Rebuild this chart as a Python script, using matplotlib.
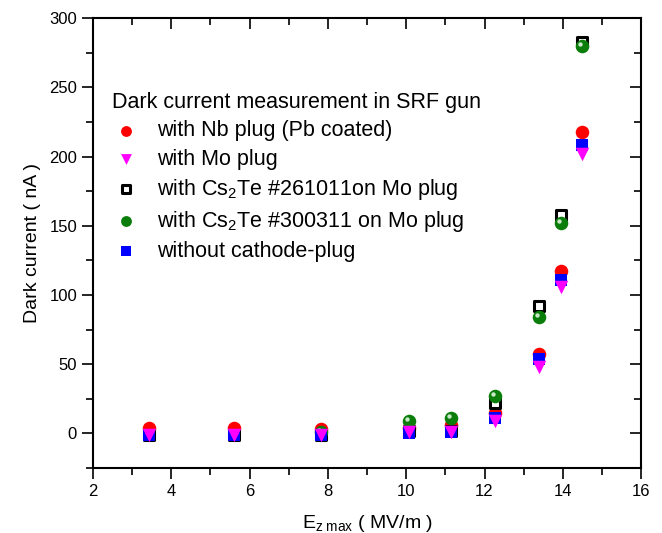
import matplotlib
matplotlib.use("Agg")
import matplotlib.pyplot as plt
import matplotlib.transforms as mtransforms
from matplotlib.lines import TICKDOWN, TICKLEFT

plt.rcParams["font.family"] = ["Liberation Sans", "DejaVu Sans"]
plt.rcParams["mathtext.fontset"] = "custom"
plt.rcParams["mathtext.rm"] = "Liberation Sans"
plt.rcParams["mathtext.it"] = "Liberation Sans"

# E_z max (MV/m)
e_field = [3.42, 5.6, 7.83, 10.07, 11.15, 12.28, 13.38, 13.95, 14.5]

nb_pb     = [4, 4, 3, 4, 6, 15, 57, 117, 218]
mo        = [-1, -1, -1, 1, 1, 9, 48, 106, 202]
cs_261011 = [-1, -1, -1, 2, 2, 22, 92, 158, 283]
e_green   = [7.83, 10.07, 11.15, 12.28, 13.38, 13.95, 14.5]
cs_300311 = [1, 9, 11, 27, 84, 152, 280]
no_plug   = [-1, -1, -1, 0, 1, 11, 54, 111, 208]

fig = plt.figure(figsize=(6.62, 5.33), dpi=100)
ax = fig.add_axes([0.1405, 0.122, 0.828, 0.844])

ax.scatter(e_field, nb_pb, s=95, marker="o", color="red", linewidths=0, zorder=2,
           label="with Nb plug (Pb coated)")
ax.scatter(e_field, cs_261011, s=45, marker="s", facecolor="white", edgecolor="black",
           linewidths=2.2, zorder=3, label="with Cs$_2$Te #261011on Mo plug")
ax.scatter(e_green, cs_300311, s=95, marker="o", color="#0a7d0a", linewidths=0, zorder=4,
           label="with Cs$_2$Te #300311 on Mo plug")
# little highlight to mimic the shaded sphere
hl = mtransforms.offset_copy(ax.transData, fig=fig, x=-2, y=2, units="dots")
ax.scatter(e_green, cs_300311, s=10, marker="o", color="#c8e8c8", linewidths=0,
           zorder=4.5, transform=hl)
ax.scatter(e_field, no_plug, s=70, marker="s", color="blue", linewidths=0, zorder=5,
           label="without cathode-plug")
ax.scatter(e_field, mo, s=95, marker="v", color="magenta", linewidths=0, zorder=6,
           label="with Mo plug")

ax.set_xlim(2, 16)
ax.set_ylim(-25, 300)
ax.set_xticks(range(2, 17, 2))
ax.set_xticks(range(3, 16, 2), minor=True)
ax.set_yticks(range(0, 301, 50))
ax.set_yticks(range(-25, 300, 50), minor=True)
ax.tick_params(which="both", labelsize=12, width=1.2, direction="out",
               bottom=True, left=True, top=True, right=True)
ax.tick_params(which="major", length=8)
ax.tick_params(which="minor", length=5)
for spine in ax.spines.values():
    spine.set_linewidth(1.5)

# top/right ticks point inward
for t in ax.xaxis.get_major_ticks() + ax.xaxis.get_minor_ticks():
    t.tick2line.set_marker(TICKDOWN)
for t in ax.yaxis.get_major_ticks() + ax.yaxis.get_minor_ticks():
    t.tick2line.set_marker(TICKLEFT)

ax.set_xlabel("E$_{z\\ max}$ ( MV/m )", fontsize=14, labelpad=10)
ax.set_ylabel("Dark current ( nA )", fontsize=14, labelpad=6)

handles, labels = ax.get_legend_handles_labels()
order = [0, 4, 1, 2, 3]
leg = ax.legend([handles[i] for i in order], [labels[i] for i in order],
                title="Dark current measurement in SRF gun", loc="upper left",
                bbox_to_anchor=(0.035, 0.835), frameon=False, fontsize=15.5,
                title_fontsize=15.5, handlelength=1.3, handletextpad=0.8,
                labelspacing=0.33, borderaxespad=0, markerscale=0.8, borderpad=0)
leg._legend_box.align = "left"

fig.savefig("out.png", dpi=100)
